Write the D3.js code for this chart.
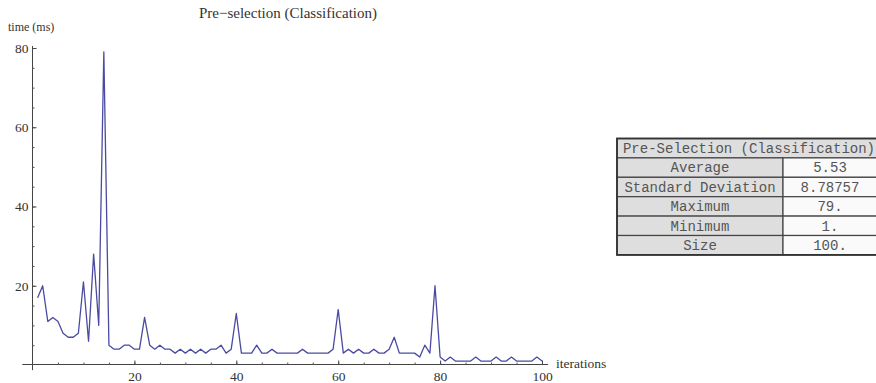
<!DOCTYPE html>
<html>
<head>
<meta charset="utf-8">
<script src="https://cdn.jsdelivr.net/npm/d3@7"></script>
<style>
  body { margin: 0; background: #fff; }
  svg { display: block; }
</style>
</head>
<body>
<div id="CHART"></div>
<script>
// time per iteration (ms), iterations 1..100
const times = [
  17, 20, 11, 12, 11, 8, 7, 7, 8, 21,
  6, 28, 10, 79, 5, 4, 4, 5, 5, 4,
  4, 12, 5, 4, 5, 4, 4, 3, 4, 3,
  4, 3, 4, 3, 4, 4, 5, 3, 4, 13,
  3, 3, 3, 5, 3, 3, 4, 3, 3, 3,
  3, 3, 4, 3, 3, 3, 3, 3, 4, 14,
  3, 4, 3, 4, 3, 3, 4, 3, 3, 4,
  7, 3, 3, 3, 3, 2, 5, 3, 20, 2,
  1, 2, 1, 1, 1, 1, 2, 1, 1, 1,
  2, 1, 1, 2, 1, 1, 1, 1, 2, 1
];

const xTicks = [20, 40, 60, 80, 100];
const yTicks = [20, 40, 60, 80];

const title = 'Pre\u2212selection (Classification)';
const yLabel = 'time (ms)';
const xLabel = 'iterations';

const tableTitle = 'Pre-Selection (Classification)';
const statLabels = ['Average', 'Standard Deviation', 'Maximum', 'Minimum', 'Size'];
const statValues = ['5.53', '8.78757', '79.', '1.', '100.'];

const width = 876;
const height = 383;
const serif = '"Liberation Serif", "DejaVu Serif", serif';
const mono = '"Liberation Mono", "DejaVu Sans Mono", monospace';

const svg = d3.select('#CHART')
  .append('svg')
  .attr('width', width)
  .attr('height', height);

const x = d3.scaleLinear().domain([0, 100]).range([32.5, 542]);
const y = d3.scaleLinear().domain([0, 80]).range([365, 48]);

// axes lines
svg.append('line')
  .attr('x1', x(-2)).attr('x2', x(101.2))
  .attr('y1', y(0) - 0.5).attr('y2', y(0) - 0.5)
  .attr('stroke', '#444').attr('stroke-width', 1);
svg.append('line')
  .attr('x1', x(0)).attr('x2', x(0))
  .attr('y1', y(-1.3)).attr('y2', y(80.5))
  .attr('stroke', '#444').attr('stroke-width', 1);

const minor = d3.range(5, 101, 5);

// x axis
svg.append('g')
  .attr('transform', `translate(0,${y(0) - 0.5})`)
  .call(d3.axisBottom(x).tickValues(minor).tickSize(-2).tickFormat(''))
  .call(g => g.select('.domain').remove())
  .call(g => g.selectAll('line').attr('stroke', '#555'));
svg.append('g')
  .attr('transform', `translate(0,${y(0) - 0.5})`)
  .call(d3.axisBottom(x).tickValues(xTicks).tickSize(-4).tickPadding(7))
  .call(g => g.select('.domain').remove())
  .call(g => g.selectAll('line').attr('stroke', '#444'))
  .call(g => g.selectAll('text')
    .attr('font-family', serif).attr('font-size', 13.5).attr('fill', '#333'));

// y axis
svg.append('g')
  .attr('transform', `translate(${x(0)},0)`)
  .call(d3.axisLeft(y).tickValues(d3.range(5, 81, 5)).tickSize(-2).tickFormat(''))
  .call(g => g.select('.domain').remove())
  .call(g => g.selectAll('line').attr('stroke', '#555'));
svg.append('g')
  .attr('transform', `translate(${x(0)},0)`)
  .call(d3.axisLeft(y).tickValues(yTicks).tickSize(-4).tickPadding(4))
  .call(g => g.select('.domain').remove())
  .call(g => g.selectAll('line').attr('stroke', '#444'))
  .call(g => g.selectAll('text')
    .attr('font-family', serif).attr('font-size', 13.5).attr('fill', '#333'));

// labels
svg.append('text')
  .attr('x', 288).attr('y', 18)
  .attr('text-anchor', 'middle')
  .attr('font-family', serif).attr('font-size', 15).attr('fill', '#333')
  .text(title);
svg.append('text')
  .attr('x', 8).attr('y', 31)
  .attr('font-family', serif).attr('font-size', 12).attr('fill', '#333')
  .text(yLabel);
svg.append('text')
  .attr('x', 556).attr('y', 368)
  .attr('font-family', serif).attr('font-size', 13.5).attr('fill', '#333')
  .text(xLabel);

// series
const line = d3.line()
  .x((d, i) => x(i + 1))
  .y(d => y(d));

svg.append('path')
  .datum(times)
  .attr('fill', 'none')
  .attr('stroke', '#4a4aa2')
  .attr('stroke-width', 1.3)
  .attr('stroke-linejoin', 'round')
  .attr('d', line);

// statistics table
const tx = 617, tw = 262, colSplit = 783, rowH = 19.4, ty = 138.5;
const table = svg.append('g');
const cellText = sel => sel
  .attr('font-family', mono).attr('font-size', 14).attr('fill', '#555')
  .attr('text-anchor', 'middle');

table.append('rect')
  .attr('x', tx).attr('y', ty).attr('width', tw).attr('height', rowH)
  .attr('fill', '#dedede').attr('stroke', '#444').attr('stroke-width', 1.2);
table.append('text')
  .attr('x', tx + tw / 2 + 1).attr('y', ty + rowH - 5)
  .call(cellText)
  .text(tableTitle);

statLabels.forEach((label, i) => {
  const ry = ty + rowH * (i + 1);
  table.append('rect')
    .attr('x', tx).attr('y', ry).attr('width', colSplit - tx).attr('height', rowH)
    .attr('fill', '#dedede').attr('stroke', '#444').attr('stroke-width', 1.2);
  table.append('rect')
    .attr('x', colSplit).attr('y', ry).attr('width', tx + tw - colSplit).attr('height', rowH)
    .attr('fill', '#fafafa').attr('stroke', '#444').attr('stroke-width', 1.2);
  table.append('text')
    .attr('x', (tx + colSplit) / 2).attr('y', ry + rowH - 5)
    .call(cellText)
    .text(label);
  table.append('text')
    .attr('x', (colSplit + tx + tw) / 2 - 1).attr('y', ry + rowH - 5)
    .call(cellText)
    .text(statValues[i]);
});

table.append('rect')
  .attr('x', tx).attr('y', ty).attr('width', tw).attr('height', rowH * 6)
  .attr('fill', 'none').attr('stroke', '#333').attr('stroke-width', 1.8);
</script>
</body>
</html>
